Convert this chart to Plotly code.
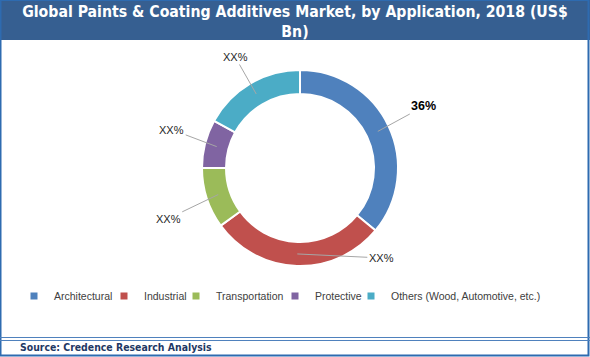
import math
import plotly.graph_objects as go

# ---- data ----
categories = ["Architectural", "Industrial", "Transportation", "Protective",
              "Others (Wood, Automotive, etc.)"]
shares = [36, 29, 10, 8, 17]
label_texts = ["36%", "XX%", "XX%", "XX%", "XX%"]
colors = ["#4F81BD", "#C0504D", "#9BBB59", "#8064A2", "#4BACC6"]

title_text = "Global Paints & Coating Additives Market, by Application, 2018 (US$<br>Bn)"
source_text = "Source: Credence Research Analysis"

# ---- layout geometry (pixels) ----
W, H = 590, 357
cx, cy, R = 300, 168, 98
hole = 0.755
r_mid = R * (1 + hole) / 2
# label offsets (pixels) from ring anchor point to label centre
label_offsets = [(46, -25), (84, 4), (-50, 24), (-45, -17), (-21, -37)]
# legend entry text start positions (pixels from left)
legend_text_x = [54, 144, 216, 315, 391]
legend_y = 296

fig = go.Figure()
fig.add_trace(go.Pie(
    labels=categories, values=shares, sort=False, direction="clockwise",
    rotation=0, hole=hole, textinfo="none", hoverinfo="label+percent",
    marker=dict(colors=colors, line=dict(color="white", width=2)),
    domain=dict(x=[(cx - R) / W, (cx + R) / W],
                y=[(H - cy - R) / H, (H - cy + R) / H]),
    showlegend=False,
))

# legend entries (one legend per category, laid out in a row)
legend_layouts = {}
for i, (cat, col) in enumerate(zip(categories, colors)):
    key = "legend" if i == 0 else f"legend{i + 1}"
    fig.add_trace(go.Scatter(
        x=[None], y=[None], mode="markers", name=cat,
        marker=dict(symbol="square", size=7, color=col),
        legend=key, showlegend=True, hoverinfo="skip",
    ))
    legend_layouts[key] = dict(
        orientation="h", x=(legend_text_x[i] - 40) / W, xanchor="left",
        y=(H - legend_y) / H, yanchor="middle", borderwidth=0,
        bgcolor="rgba(0,0,0,0)",
        font=dict(family="Liberation Sans", size=10.5, color="#404040"),
    )

annotations = []
total = sum(shares)
cum = 0
for i, v in enumerate(shares):
    mid = (cum + v / 2) / total * 2 * math.pi
    cum += v
    px = cx + r_mid * math.sin(mid)
    py = cy - r_mid * math.cos(mid)
    ax, ay = label_offsets[i]
    bold = i == 0
    annotations.append(dict(
        x=px / W, y=(H - py) / H, xref="paper", yref="paper",
        text=label_texts[i], showarrow=True, arrowhead=0, arrowwidth=1,
        arrowcolor="#A6A6A6", ax=ax, ay=ay, standoff=0,
        font=dict(family="Liberation Sans", size=12.5 if bold else 11,
                  color="#000000" if bold else "#262626",
                  weight="bold" if bold else "normal"),
    ))

annotations.append(dict(
    x=18 / W, y=(H - 347) / H, xref="paper", yref="paper", xanchor="left",
    yanchor="middle", showarrow=False, text=source_text,
    font=dict(family="DejaVu Sans Condensed", size=10.4, color="#1F3864",
              weight="bold"),
))

shapes = [
    dict(type="rect", xref="paper", yref="paper", x0=0, x1=1,
         y0=(H - 40) / H, y1=1, fillcolor="#365F91", line=dict(width=0),
         layer="below"),
    dict(type="rect", xref="paper", yref="paper", x0=0.5 / W, x1=1 - 1.5 / W,
         y0=1.5 / H, y1=1, line=dict(color="#2E6BB0", width=2)),
    dict(type="line", xref="paper", yref="paper", x0=0, x1=1,
         y0=(H - 337.5) / H, y1=(H - 337.5) / H,
         line=dict(color="#4F81BD", width=1)),
    dict(type="line", xref="paper", yref="paper", x0=0, x1=1,
         y0=(H - 340.5) / H, y1=(H - 340.5) / H,
         line=dict(color="#4F81BD", width=1)),
]

fig.update_layout(
    width=W, height=H, margin=dict(l=0, r=0, t=0, b=0),
    paper_bgcolor="white", plot_bgcolor="rgba(0,0,0,0)",
    xaxis=dict(visible=False, fixedrange=True),
    yaxis=dict(visible=False, fixedrange=True),
    title=dict(text=title_text, x=0.5, xanchor="center", xref="paper",
               y=1 - 17 / H, yref="container", yanchor="middle",
               font=dict(family="DejaVu Sans Condensed", size=15.7,
                         color="white", weight="bold")),
    annotations=annotations, shapes=shapes,
    **legend_layouts,
)

fig.write_html("out.html", config={"displayModeBar": False},
               post_script="document.body.style.margin='0';"
                           "document.body.style.overflow='hidden';")
